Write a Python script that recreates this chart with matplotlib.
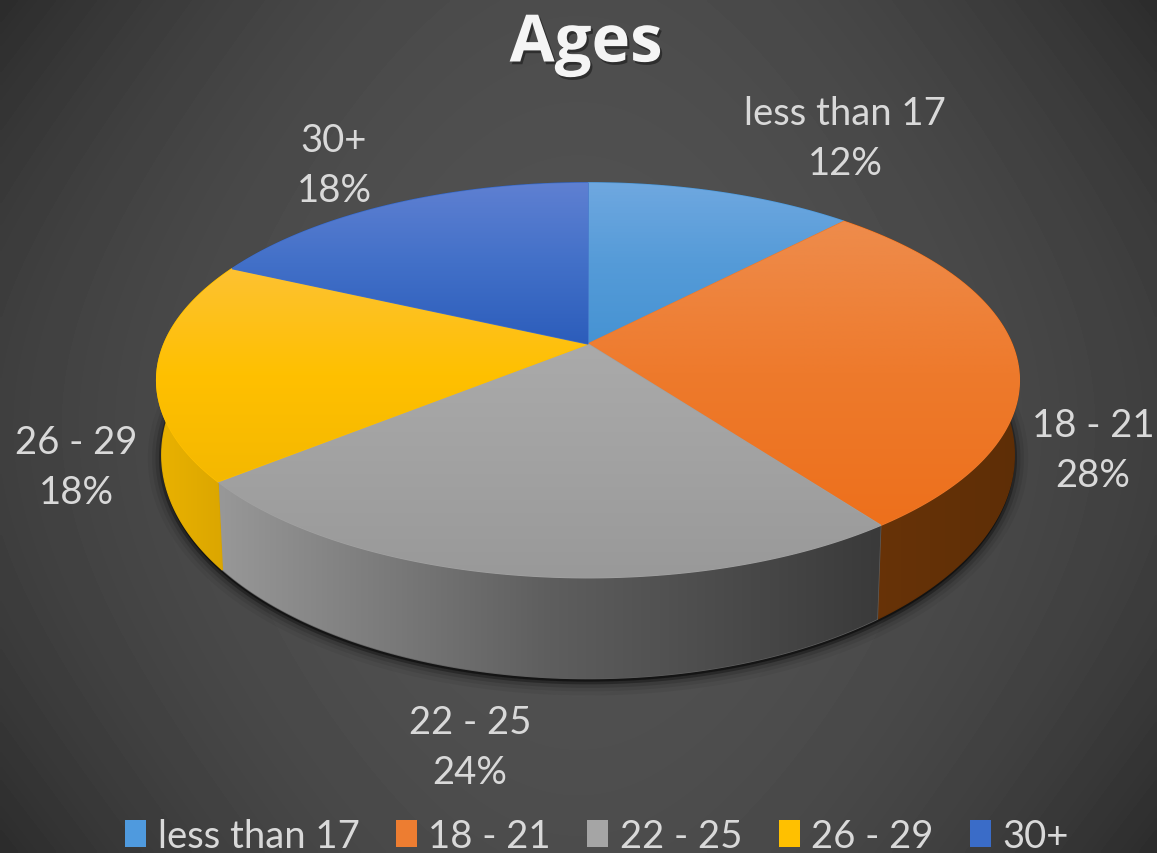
import numpy as np
import matplotlib
matplotlib.use('Agg')
import matplotlib.pyplot as plt
import matplotlib.patheffects as pe
from matplotlib.colors import LinearSegmentedColormap
from matplotlib.patches import Patch, Polygon

categories = ['less than 17', '18 - 21', '22 - 25', '26 - 29', '30+']
shares = [12, 28, 24, 18, 18]
title = 'Ages'

top_colors = [('#6fa8e0', '#559bd8', '#4693d3'), ('#ee8c4c', '#ee7a2c', '#ed701c'),
              ('#aaaaaa', '#a2a2a2', '#999999'), ('#fdc232', '#ffc000', '#f4b800'),
              ('#5f80d2', '#4270c8', '#2c5dbb')]
side_colors = [('#2c5a80', '#2c5a80'), ('#6a3408', '#5e2e06'), ('#989898', '#5e5e5e', '#3a3a3a'),
               ('#eab200', '#d8a400'), ('#23478c', '#23478c')]
legend_colors = ['#4f9ade', '#ed7d31', '#a5a5a5', '#ffc000', '#3a6cc8']
label_pos = [(845, 139), (1093, 451), (470, 748), (76, 468), (334, 166)]

W, H = 1157, 854
APEX_X, APEX_Y = 588, 345
K = 0.1837  # perspective of the disc


def disc_point(theta, a, b, dy=0):
    d = 1 + K * np.cos(theta)
    return APEX_X + a * np.sin(theta) / d, APEX_Y + dy - b * np.cos(theta) / d


def top_edge(theta):
    return disc_point(theta, 424, 190.8)


def low_edge(theta):
    return disc_point(theta, 419, 216, 70)


def grad_fill(ax, xs, ys, colors, horizontal=False, zorder=2):
    # flat fill with a thin stroke underneath so no seams show between slices
    ax.fill(xs, ys, fc=colors[len(colors) // 2], ec=colors[len(colors) // 2], lw=1, zorder=zorder)
    cmap = LinearSegmentedColormap.from_list('g', colors)
    grad = np.linspace(0, 1, 256)
    grad = grad.reshape(1, -1) if horizontal else grad.reshape(-1, 1)
    im = ax.imshow(grad, cmap=cmap, aspect='auto', origin='upper', zorder=zorder,
                   extent=[xs.min(), xs.max(), ys.max(), ys.min()])
    poly = Polygon(np.column_stack([xs, ys]), transform=ax.transData, fc='none', ec='none')
    ax.add_patch(poly)
    im.set_clip_path(poly)


plt.rcParams['font.family'] = ['Lato', 'DejaVu Sans']
fig = plt.figure(figsize=(W / 100, H / 100), dpi=100)
ax = fig.add_axes([0, 0, 1, 1])

# background, lighter in the middle
gx, gy = np.meshgrid(np.linspace(-1, 1, 300), np.linspace(-1, 1, 220))
r2 = 0.5 * gx**2 + 0.15 * gy**2 + 0.35 * gx**2 * gy**2
ax.imshow(0x52 - (0x52 - 0x2c) * r2, cmap='gray', vmin=0, vmax=255, aspect='auto',
          extent=[0, W, H, 0], zorder=0, interpolation='bilinear')

# soft shadow under the pie
t = np.linspace(0, 2 * np.pi, 400)
lx, ly = low_edge(t)
for lw, alpha in [(20, 0.05), (14, 0.08), (9, 0.13), (4, 0.3)]:
    ax.fill(lx, ly + 3, fc='black', ec='black', lw=lw, alpha=alpha, zorder=1)

edges = 2 * np.pi * np.cumsum([0] + shares) / sum(shares)

# side walls first, the top surface covers whatever is behind
for i in range(len(shares)):
    t = np.linspace(edges[i], edges[i + 1], 120)
    tx, ty = top_edge(t)
    bx, by = low_edge(t)
    grad_fill(ax, np.r_[tx, bx[::-1]], np.r_[ty, by[::-1]], side_colors[i],
              horizontal=True, zorder=2)

for i in range(len(shares)):
    t = np.linspace(edges[i], edges[i + 1], 120)
    tx, ty = top_edge(t)
    grad_fill(ax, np.r_[APEX_X, tx], np.r_[APEX_Y, ty], top_colors[i], zorder=3)

for name, share, (x, y) in zip(categories, shares, label_pos):
    ax.text(x, y, f'{name}\n{share}%', ha='center', va='center', color='#d9d9d9',
            fontsize=27.5, linespacing=1.5, zorder=5)

ax.text(586, 46, title, ha='center', va='center', color='#f5f5f5', fontsize=47,
        fontweight='bold', family=['Open Sans', 'DejaVu Sans'], zorder=5,
        path_effects=[pe.withSimplePatchShadow(offset=(1.5, -2), alpha=0.4, shadow_rgbFace='black')])

handles = [Patch(fc=c, ec='none') for c in legend_colors]
ax.legend(handles, categories, loc='center', bbox_to_anchor=(597, 837), ncol=5,
          bbox_transform=ax.transData, frameon=False, fontsize=27.5, labelcolor='#d9d9d9',
          handlelength=0.55, handleheight=0.7, handletextpad=0.3, columnspacing=0.95,
          borderpad=0, borderaxespad=0)

ax.set_xlim(0, W)
ax.set_ylim(H, 0)
ax.axis('off')
fig.savefig('out.png', dpi=100)
